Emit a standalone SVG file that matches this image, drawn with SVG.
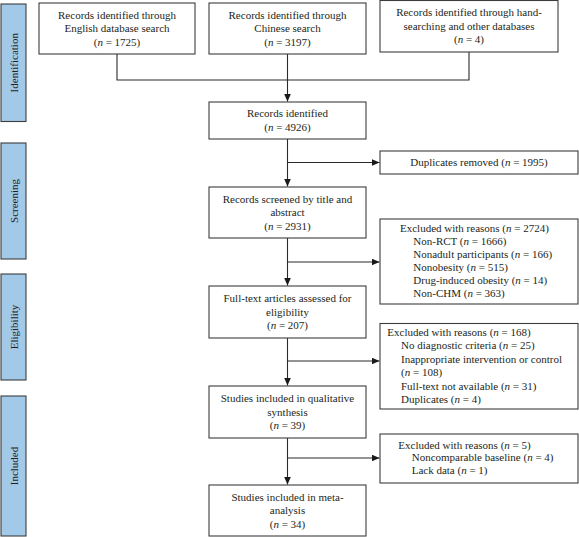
<svg xmlns="http://www.w3.org/2000/svg" width="579" height="537" viewBox="0 0 579 537">
<style>
.box{fill:#fff;stroke:#3c3c3c;stroke-width:1.1}
.side{fill:#a3c9e8;stroke:#3c3c3c;stroke-width:1.1}
text{font-family:"Liberation Serif","Times New Roman",serif;font-size:11px;fill:#231f20}
.c{text-anchor:middle}
.ln{fill:none;stroke:#2a2a2a;stroke-width:1.1}
.i{font-style:italic}
</style>
<defs>
<marker id="ah" markerUnits="userSpaceOnUse" markerWidth="9" markerHeight="8" refX="8" refY="3.5" orient="auto">
<path d="M0,0 L8,3.5 L0,7 z" fill="#1a1a1a"/>
</marker>
</defs>
<g id="side-identification"><rect class="side" x="1" y="4" width="25" height="117.5"/><text class="c" transform="translate(17.5,62.75) rotate(-90)">Identification</text></g>
<g id="side-screening"><rect class="side" x="1" y="143" width="25" height="116"/><text class="c" transform="translate(17.5,201) rotate(-90)">Screening</text></g>
<g id="side-eligibility"><rect class="side" x="1" y="274" width="25" height="106"/><text class="c" transform="translate(17.5,327) rotate(-90)">Eligibility</text></g>
<g id="side-included"><rect class="side" x="1" y="396" width="25" height="140"/><text class="c" transform="translate(17.5,466) rotate(-90)">Included</text></g>

<g id="connectors">
<path class="ln" d="M117,54 V80 H469 V52"/>
<path class="ln" d="M287.5,54 V101.5" marker-end="url(#ah)"/>
<path class="ln" d="M287.5,139 V186.5" marker-end="url(#ah)"/>
<path class="ln" d="M287.5,162.5 H379.5" marker-end="url(#ah)"/>
<path class="ln" d="M287.5,238 V285.5" marker-end="url(#ah)"/>
<path class="ln" d="M287.5,262 H379.5" marker-end="url(#ah)"/>
<path class="ln" d="M287.5,338 V385.5" marker-end="url(#ah)"/>
<path class="ln" d="M287.5,361 H379.5" marker-end="url(#ah)"/>
<path class="ln" d="M287.5,438 V484.5" marker-end="url(#ah)"/>
<path class="ln" d="M287.5,458 H379.5" marker-end="url(#ah)"/>
</g>

<g id="english"><rect class="box" x="39" y="3" width="156" height="51"/>
<text class="c" x="117" y="18.5">Records identified through</text>
<text class="c" x="117" y="32">English database search</text>
<text class="c" x="117" y="45.5">(<tspan class="i">n</tspan> = 1725)</text></g>

<g id="chinese"><rect class="box" x="209" y="3" width="157" height="51"/>
<text class="c" x="287.5" y="18.5">Records identified through</text>
<text class="c" x="287.5" y="32">Chinese search</text>
<text class="c" x="287.5" y="45.5">(<tspan class="i">n</tspan> = 3197)</text></g>

<g id="hand"><rect class="box" x="380" y="0.5" width="178" height="51.5"/>
<text class="c" x="469" y="16.25">Records identified through hand-</text>
<text class="c" x="469" y="29.75">searching and other databases</text>
<text class="c" x="469" y="43.25">(<tspan class="i">n</tspan> = 4)</text></g>

<g id="identified"><rect class="box" x="209" y="102" width="157" height="37"/>
<text class="c" x="287.5" y="117.25">Records identified</text>
<text class="c" x="287.5" y="130.75">(<tspan class="i">n</tspan> = 4926)</text></g>

<g id="duplicates"><rect class="box" x="380" y="151" width="198" height="23"/>
<text class="c" x="479" y="166">Duplicates removed (<tspan class="i">n</tspan> = 1995)</text></g>

<g id="screened"><rect class="box" x="209" y="187" width="157" height="51"/>
<text class="c" x="287.5" y="202.5">Records screened by title and</text>
<text class="c" x="287.5" y="216">abstract</text>
<text class="c" x="287.5" y="229.5">(<tspan class="i">n</tspan> = 2931)</text></g>

<g id="excluded1"><rect class="box" x="380" y="219" width="198" height="85"/>
<text x="400" y="232">Excluded with reasons (<tspan class="i">n</tspan> = 2724)</text>
<text x="413.3" y="245">Non-RCT (<tspan class="i">n</tspan> = 1666)</text>
<text x="413.3" y="258">Nonadult participants (<tspan class="i">n</tspan> = 166)</text>
<text x="413.3" y="271">Nonobesity (<tspan class="i">n</tspan> = 515)</text>
<text x="413.3" y="284">Drug-induced obesity (<tspan class="i">n</tspan> = 14)</text>
<text x="413.3" y="297">Non-CHM (<tspan class="i">n</tspan> = 363)</text></g>

<g id="fulltext"><rect class="box" x="209" y="286" width="157" height="52"/>
<text class="c" x="287.5" y="302">Full-text articles assessed for</text>
<text class="c" x="287.5" y="315.5">eligibility</text>
<text class="c" x="287.5" y="329">(<tspan class="i">n</tspan> = 207)</text></g>

<g id="excluded2"><rect class="box" x="380" y="323.5" width="198" height="85.5"/>
<text x="387.3" y="336">Excluded with reasons (<tspan class="i">n</tspan> = 168)</text>
<text x="401" y="349">No diagnostic criteria (<tspan class="i">n</tspan> = 25)</text>
<text x="401" y="362.5">Inappropriate intervention or control</text>
<text x="401" y="376">(<tspan class="i">n</tspan> = 108)</text>
<text x="401" y="389.5">Full-text not available (<tspan class="i">n</tspan> = 31)</text>
<text x="401" y="403">Duplicates (<tspan class="i">n</tspan> = 4)</text></g>

<g id="qualitative"><rect class="box" x="209" y="386" width="157" height="52"/>
<text class="c" x="287.5" y="402">Studies included in qualitative</text>
<text class="c" x="287.5" y="415.5">synthesis</text>
<text class="c" x="287.5" y="429">(<tspan class="i">n</tspan> = 39)</text></g>

<g id="excluded3"><rect class="box" x="380" y="434" width="198" height="49"/>
<text x="398.3" y="448.5">Excluded with reasons (<tspan class="i">n</tspan> = 5)</text>
<text x="411.7" y="461">Noncomparable baseline (<tspan class="i">n</tspan> = 4)</text>
<text x="411.7" y="473.5">Lack data (<tspan class="i">n</tspan> = 1)</text></g>

<g id="meta"><rect class="box" x="209" y="485" width="157" height="51"/>
<text class="c" x="287.5" y="500.5">Studies included in meta-</text>
<text class="c" x="287.5" y="514">analysis</text>
<text class="c" x="287.5" y="527.5">(<tspan class="i">n</tspan> = 34)</text></g>
</svg>
